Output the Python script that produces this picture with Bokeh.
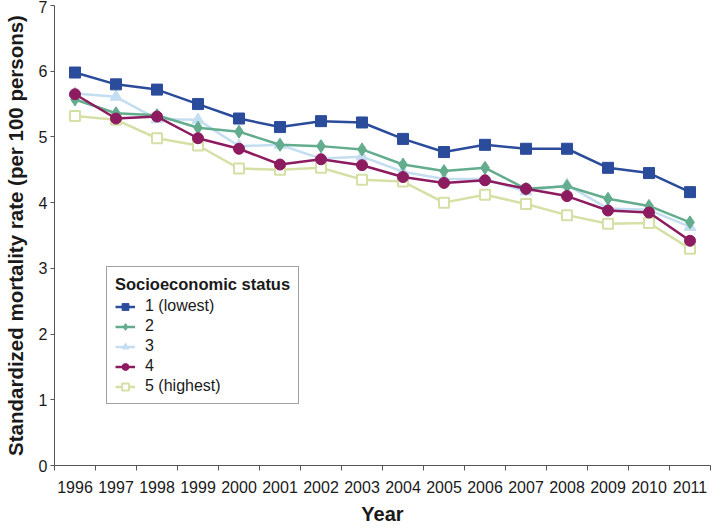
from bokeh.plotting import figure
from bokeh.models import FixedTicker, Legend, LegendItem
from bokeh.embed import file_html
from bokeh.resources import INLINE

years = list(range(1996, 2012))
year_labels = [str(y) for y in years]

ses1 = [5.98, 5.80, 5.72, 5.50, 5.28, 5.15, 5.24, 5.22, 4.97, 4.77, 4.88, 4.82, 4.82, 4.53, 4.45, 4.16]
ses2 = [5.57, 5.36, 5.33, 5.14, 5.08, 4.88, 4.86, 4.81, 4.58, 4.48, 4.53, 4.21, 4.25, 4.06, 3.95, 3.70]
ses3 = [5.66, 5.61, 5.27, 5.26, 4.86, 4.88, 4.67, 4.70, 4.47, 4.36, 4.36, 4.17, 4.27, 3.91, 3.89, 3.63]
ses4 = [5.65, 5.28, 5.31, 4.98, 4.82, 4.58, 4.66, 4.57, 4.39, 4.30, 4.34, 4.21, 4.10, 3.88, 3.85, 3.42]
ses5 = [5.32, 5.26, 4.98, 4.87, 4.52, 4.50, 4.53, 4.35, 4.32, 4.00, 4.12, 3.98, 3.81, 3.68, 3.69, 3.30]

series_names = ["1 (lowest)", "2", "3", "4", "5 (highest)"]
y_ticks = [0, 1, 2, 3, 4, 5, 6, 7]

FONT = "Liberation Sans"
TXT = "#1a1a1a"
AX = "#555555"

p = figure(width=711, height=527, output_backend="svg", toolbar_location=None,
           x_range=(1995.5, 2011.5), y_range=(0, 7),
           min_border_left=48, min_border_right=1, min_border_top=5, min_border_bottom=0)
p.outline_line_color = None
p.xgrid.visible = False
p.ygrid.visible = False
p.background_fill_color = "white"
p.border_fill_color = "white"

# x axis: labels at category centres, ticks at category boundaries
xa = p.xaxis[0]
xa.ticker = FixedTicker(ticks=years, minor_ticks=[y - 0.5 for y in years] + [years[-1] + 0.5])
xa.major_label_overrides = {y: lab for y, lab in zip(years, year_labels)}
xa.major_tick_out = 0
xa.major_tick_in = 0
xa.minor_tick_out = 5
xa.minor_tick_in = 0
xa.minor_tick_line_color = AX
xa.axis_line_color = AX
xa.major_label_text_font = FONT
xa.major_label_text_font_size = "16px"
xa.major_label_text_color = TXT
xa.major_label_standoff = 10
xa.axis_label = "Year"
xa.axis_label_text_font = FONT
xa.axis_label_text_font_size = "20px"
xa.axis_label_text_font_style = "bold"
xa.axis_label_text_color = TXT
xa.axis_label_standoff = 7

ya = p.yaxis[0]
ya.ticker = FixedTicker(ticks=y_ticks, minor_ticks=[])
ya.major_tick_out = 4
ya.major_tick_in = 0
ya.major_tick_line_color = AX
ya.axis_line_color = AX
ya.major_label_text_font = FONT
ya.major_label_text_font_size = "16px"
ya.major_label_text_color = TXT
ya.major_label_standoff = 3
ya.axis_label = "Standardized mortality rate (per 100 persons)"
ya.axis_label_text_font = FONT
ya.axis_label_text_font_size = "20.5px"
ya.axis_label_text_font_style = "bold"
ya.axis_label_text_color = TXT
ya.axis_label_standoff = 9

c1, c2, c3, c4, c5 = "#2b4b9b", "#63ad8e", "#c4def1", "#8c1b5f", "#d5e0a6"
LW = 2.5

r5l = p.line(years, ses5, line_color=c5, line_width=LW)
r5m = p.scatter(years, ses5, marker="square", size=10, fill_color="white", line_color=c5, line_width=2)
r3l = p.line(years, ses3, line_color=c3, line_width=LW)
r3m = p.scatter(years, ses3, marker="triangle", size=12, fill_color=c3, line_color=c3)
r2l = p.line(years, ses2, line_color=c2, line_width=LW)
r2m = p.scatter(years, ses2, marker="diamond", size=13, fill_color=c2, line_color=c2)
r4l = p.line(years, ses4, line_color=c4, line_width=LW)
r4m = p.scatter(years, ses4, marker="circle", size=11, fill_color=c4, line_color=c4)
r1l = p.line(years, ses1, line_color=c1, line_width=LW)
r1m = p.scatter(years, ses1, marker="square", size=11, fill_color=c1, line_color=c1)

items = [
    LegendItem(label=series_names[0], renderers=[r1l, r1m]),
    LegendItem(label=series_names[1], renderers=[r2l, r2m]),
    LegendItem(label=series_names[2], renderers=[r3l, r3m]),
    LegendItem(label=series_names[3], renderers=[r4l, r4m]),
    LegendItem(label=series_names[4], renderers=[r5l, r5m]),
]
legend = Legend(items=items, location=(52, 61), title="Socioeconomic status",
                title_text_font=FONT, title_text_font_size="16.5px", title_text_font_style="bold",
                title_text_color=TXT, title_standoff=3,
                label_text_font=FONT, label_text_font_size="16px", label_text_color=TXT,
                label_height=17, glyph_height=17, glyph_width=20, label_standoff=10,
                spacing=2, padding=8, margin=0,
                border_line_color="#444444", border_line_width=1,
                background_fill_color="white", background_fill_alpha=1)
p.add_layout(legend, "center")

open("out.html", "w").write(file_html(p, INLINE))
